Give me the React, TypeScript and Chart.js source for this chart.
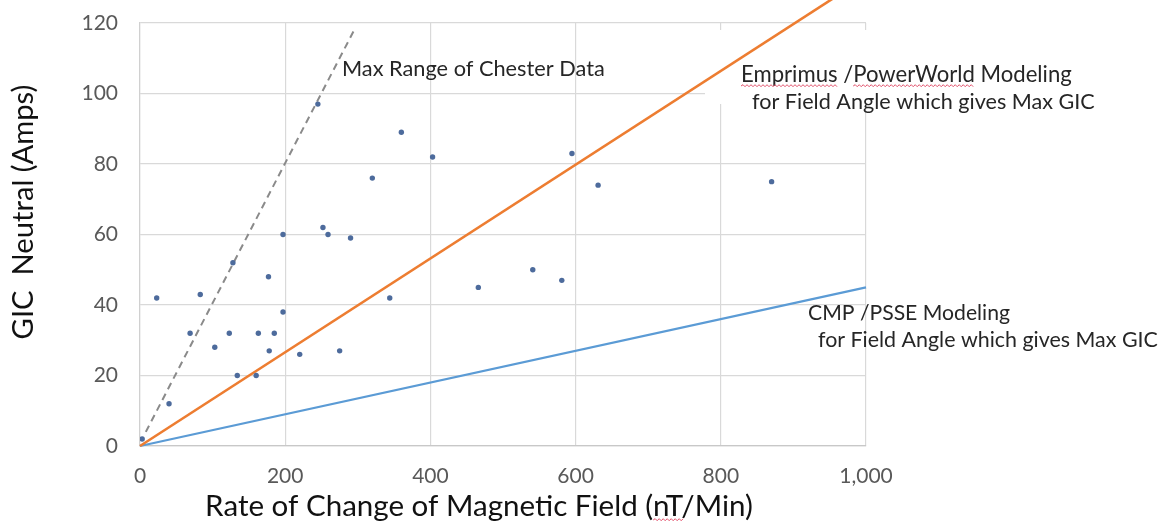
import { useEffect, useRef } from 'react';
import { Chart, registerables } from 'chart.js';

Chart.register(...registerables);

const FONT = 'Lato, "Open Sans", "DejaVu Sans", sans-serif';

// Measured GIC readings (rate of change nT/min vs neutral current A)
const readingsX = [3, 23, 40, 69, 83, 103, 123, 128, 134, 160, 163, 177, 178, 185, 197, 197, 220, 245, 252, 259, 275, 290, 320, 344, 360, 403, 466, 541, 581, 595, 631, 870];
const readingsY = [2, 42, 12, 32, 43, 28, 32, 52, 20, 20, 32, 48, 27, 32, 38, 60, 26, 97, 62, 60, 27, 59, 76, 42, 89, 82, 45, 50, 47, 83, 74, 75];

// Model lines
const emprimusX = [0, 1000];
const emprimusY = [0, 133];
const cmpX = [0, 1000];
const cmpY = [0, 45];
const chesterX = [8, 295];
const chesterY = [4, 118];

// Axis ticks
const xTickValues = [0, 200, 400, 600, 800, 1000];
const yTickValues = [0, 20, 40, 60, 80, 100, 120];

const xTitle = 'Rate of Change of Magnetic Field (nT/Min)';
const yTitle = 'GIC  Neutral (Amps)';
const chesterLabel = 'Max Range of Chester Data';
const emprimusLabel1 = 'Emprimus /PowerWorld Modeling';
const emprimusLabel2 = 'for Field Angle which gives Max GIC';
const cmpLabel1 = 'CMP /PSSE Modeling';
const cmpLabel2 = 'for Field Angle which gives Max GIC';

const toPoints = (xs: number[], ys: number[]) => xs.map((x, i) => ({ x, y: ys[i] }));

function fitSize(ctx: CanvasRenderingContext2D, text: string, width: number) {
  ctx.font = `40px ${FONT}`;
  const w = ctx.measureText(text).width;
  return (40 * width) / w;
}

function squiggle(ctx: CanvasRenderingContext2D, x1: number, x2: number, y: number) {
  ctx.save();
  ctx.strokeStyle = '#e2506a';
  ctx.lineWidth = 1;
  ctx.beginPath();
  let up = true;
  ctx.moveTo(x1, y);
  for (let x = x1 + 2; x <= x2; x += 2) {
    ctx.lineTo(x, up ? y - 1.3 : y + 0.7);
    up = !up;
  }
  ctx.stroke();
  ctx.restore();
}

function drawText(ctx: CanvasRenderingContext2D, text: string, x: number, y: number, width: number, align: CanvasTextAlign = 'left') {
  const size = fitSize(ctx, text, width);
  ctx.font = `${size}px ${FONT}`;
  ctx.textAlign = align;
  ctx.textBaseline = 'middle';
  ctx.fillText(text, x, y);
  return size;
}

const textPlugin = {
  id: 'textPlugin',
  beforeDatasetsDraw(chart: any) {
    const ctx = chart.ctx as CanvasRenderingContext2D;
    ctx.save();
    ctx.fillStyle = '#ffffff';
    ctx.fillRect(705, 30, 410, 74);
    ctx.restore();
  },
  afterDraw(chart: any) {
    const ctx = chart.ctx as CanvasRenderingContext2D;
    ctx.save();
    ctx.fillStyle = '#262626';
    drawText(ctx, chesterLabel, 342, 69, 263);

    const s1 = drawText(ctx, emprimusLabel1, 741, 75, 331);
    ctx.font = `${s1}px ${FONT}`;
    const wEmp = ctx.measureText('Emprimus').width;
    const wPre = ctx.measureText('Emprimus /').width;
    const wPW = ctx.measureText('PowerWorld').width;
    drawText(ctx, emprimusLabel2, 752, 102, 343);
    drawText(ctx, cmpLabel1, 808, 313, 202);
    drawText(ctx, cmpLabel2, 818, 340, 340);
    squiggle(ctx, 741, 741 + wEmp, 86);
    squiggle(ctx, 741 + wPre, 741 + wPre + wPW, 86);

    ctx.fillStyle = '#111111';
    const sx = drawText(ctx, xTitle, 479, 506, 548, 'center');
    ctx.font = `${sx}px ${FONT}`;
    const full = ctx.measureText(xTitle).width;
    const pre = ctx.measureText('Rate of Change of Magnetic Field (').width;
    const nt = ctx.measureText('nT').width;
    const startX = 479 - full / 2;
    squiggle(ctx, startX + pre, startX + pre + nt, 520);

    ctx.translate(24, 212);
    ctx.rotate(-Math.PI / 2);
    drawText(ctx, yTitle, 0, 0, 255, 'center');
    ctx.restore();
  },
};

export default function App() {
  const ref = useRef<HTMLCanvasElement>(null);

  useEffect(() => {
    if (!ref.current) return;
    const chart = new Chart(ref.current, {
      type: 'scatter',
      data: {
        datasets: [
          {
            label: 'Readings',
            data: toPoints(readingsX, readingsY),
            pointRadius: 2.7,
            pointBackgroundColor: '#4d6b9c',
            pointBorderWidth: 0,
            showLine: false,
            order: 0,
          },
          {
            label: 'Emprimus',
            data: toPoints(emprimusX, emprimusY),
            showLine: true,
            pointRadius: 0,
            borderColor: '#ED7D31',
            borderWidth: 2.6,
            clip: false,
            order: 2,
          },
          {
            label: 'CMP',
            data: toPoints(cmpX, cmpY),
            showLine: true,
            pointRadius: 0,
            borderColor: '#5B9BD5',
            borderWidth: 2.2,
            clip: false,
            order: 3,
          },
          {
            label: 'Chester',
            data: toPoints(chesterX, chesterY),
            showLine: true,
            pointRadius: 0,
            borderColor: '#8a8a8a',
            borderWidth: 2,
            borderDash: [7, 5],
            clip: false,
            order: 1,
          },
        ],
      },
      options: {
        responsive: false,
        animation: false,
        devicePixelRatio: 1,
        layout: { padding: { left: 60, right: 304, top: 23, bottom: 0 } },
        plugins: { legend: { display: false }, tooltip: { enabled: false } },
        scales: {
          x: {
            type: 'linear',
            min: 0,
            max: 1000,
            afterBuildTicks: (s: any) => {
              s.ticks = xTickValues.map((v) => ({ value: v }));
            },
            afterFit: (s: any) => {
              s.height = 77;
              s.paddingLeft = 0;
              s.paddingRight = 0;
            },
            ticks: {
              color: '#595959',
              font: { family: FONT, size: 21 },
              padding: 18,
              maxRotation: 0,
              callback: (v: any) => Number(v).toLocaleString('en-US'),
            },
            grid: { color: '#d9d9d9', lineWidth: 1.2, drawTicks: false },
            border: { color: '#c8c8c8', width: 1.2 },
          },
          y: {
            type: 'linear',
            min: 0,
            max: 120,
            afterBuildTicks: (s: any) => {
              s.ticks = yTickValues.map((v) => ({ value: v }));
            },
            afterFit: (s: any) => {
              s.width = 80;
              s.paddingTop = 0;
              s.paddingBottom = 0;
            },
            ticks: {
              color: '#595959',
              font: { family: FONT, size: 21 },
              padding: 22,
            },
            grid: { color: '#d9d9d9', lineWidth: 1.2, drawTicks: false },
            border: { color: '#d0d0d0', width: 1.2 },
          },
        },
      },
      plugins: [textPlugin],
    });
    return () => chart.destroy();
  }, []);

  return (
    <div style={{ position: 'absolute', left: 0, top: 0, width: 1170, height: 523, background: '#fff' }}>
      <canvas ref={ref} width={1170} height={523} />
    </div>
  );
}
